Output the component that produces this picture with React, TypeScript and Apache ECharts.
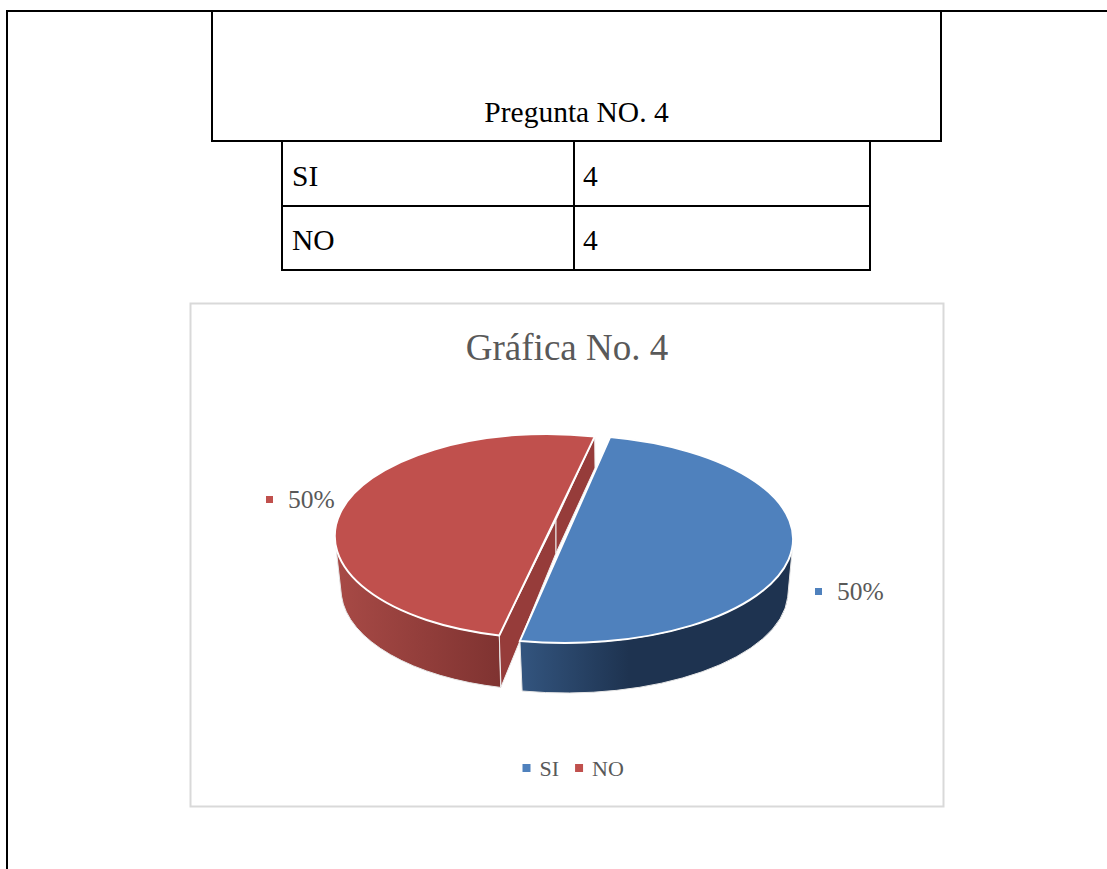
import React, { useEffect, useRef } from "react";
import * as echarts from "echarts";

const categories = ["SI", "NO"];
const values = [4, 4];
const tableHeading = "Pregunta NO. 4";
const chartTitle = "Gráfica No. 4";
const blue = "#4F81BD";
const red = "#C0504D";

const serif = "'Liberation Serif', serif";

type Slice = {
  cx: number; cy: number; rx: number; ry: number;
  lcx: number; lcy: number; lrx: number; lry: number;
  start: number;
  side: string[];
  labelX: number; labelY: number;
};

const sliceGeom: Slice[] = [
  { cx: 565, cy: 539, rx: 228, ry: 104, lcx: 566, lcy: 592, lrx: 222, lry: 101, start: -78.6,
    side: ["#33557F", "#1E3350"], labelX: 815, labelY: 590 },
  { cx: 547, cy: 536, rx: 212, ry: 102, lcx: 547, lcy: 589, lrx: 206, lry: 101, start: 103,
    side: ["#A84A46", "#7F3331"], labelX: 266, labelY: 498 },
];

const total = values.reduce((a, b) => a + b, 0);

function pt(cx: number, cy: number, rx: number, ry: number, deg: number) {
  const t = (deg * Math.PI) / 180;
  return [cx + rx * Math.cos(t), cy + ry * Math.sin(t)];
}

function renderSlice(idx: number) {
  return () => {
    const g = sliceGeom[idx];
    const sweep = (360 * values[idx]) / total;
    const end = g.start + sweep;
    const a = pt(g.cx, g.cy, g.rx, g.ry, g.start);
    const b = pt(g.cx, g.cy, g.rx, g.ry, end);
    const topPath = `M${a[0]} ${a[1]} A${g.rx} ${g.ry} 0 ${sweep > 180 ? 1 : 0} 1 ${b[0]} ${b[1]} Z`;

    // visible outer wall: only the near side of the rim
    const from = idx === 0 ? 3 : g.start;
    const to = idx === 0 ? end : 176;
    const w1 = pt(g.cx, g.cy, g.rx, g.ry, from);
    const w2 = pt(g.cx, g.cy, g.rx, g.ry, to);
    const w3 = pt(g.lcx, g.lcy, g.lrx, g.lry, to);
    const w4 = pt(g.lcx, g.lcy, g.lrx, g.lry, from);
    const wallPath =
      `M${w1[0]} ${w1[1]} A${g.rx} ${g.ry} 0 0 1 ${w2[0]} ${w2[1]} ` +
      `L${w3[0]} ${w3[1]} A${g.lrx} ${g.lry} 0 0 0 ${w4[0]} ${w4[1]} Z`;

    const wallFill = idx === 0
      ? new echarts.graphic.LinearGradient(0, 0, 1, 0, [
          { offset: 0, color: g.side[0] },
          { offset: 0.4, color: g.side[1] },
          { offset: 1, color: g.side[1] },
        ])
      : new echarts.graphic.LinearGradient(1, 0, 0, 0, [
          { offset: 0, color: g.side[1] },
          { offset: 1, color: g.side[0] },
        ]);

    const mk = (d: string, style: any) => ({ type: "path", shape: { pathData: d }, style });
    const children: any[] = [mk(wallPath, { fill: wallFill, stroke: "#E6E6E6", lineWidth: 1 })];

    if (idx === 1) {
      // cut faces of the exploded slice, folded at the pie's centre
      const fold = [556, 520];
      const foldLow = [556, 553];
      const lowA = [501, 687];
      const lowB = [595, 468];
      children.push(
        mk(`M${a[0]} ${a[1]} L${fold[0]} ${fold[1]} L${foldLow[0]} ${foldLow[1]} L${lowA[0]} ${lowA[1]} Z`,
          { fill: "#963C3A", stroke: "#EFEFEF", lineWidth: 1 }),
        mk(`M${b[0]} ${b[1]} L${fold[0]} ${fold[1]} L${foldLow[0]} ${foldLow[1]} L${lowB[0]} ${lowB[1]} Z`,
          { fill: "#963C3A", stroke: "#EFEFEF", lineWidth: 1 }),
      );
    }
    children.push(mk(topPath, { fill: idx === 0 ? blue : red, stroke: "#FFFFFF", lineWidth: 2 }));

    const pct = `${Math.round((100 * values[idx]) / total)}%`;
    children.push(
      { type: "rect", shape: { x: g.labelX, y: g.labelY - 2, width: 7, height: 7 }, style: { fill: idx === 0 ? blue : red } },
      { type: "text", style: { x: g.labelX + 22, y: g.labelY + 1, text: pct, fill: "#595959", font: `25.5px ${serif}`, textVerticalAlign: "middle", textAlign: "left" } },
    );
    return { type: "group", children };
  };
}

export default function App() {
  const ref = useRef<HTMLDivElement>(null);
  useEffect(() => {
    document.body.style.margin = "0";
    const chart = echarts.init(ref.current!, undefined, { renderer: "svg" });
    const line = { stroke: "#000000", lineWidth: 2 };
    const cellText = (x: number, y: number, text: string, textAlign = "left") => ({
      type: "text",
      style: { x, y, text, textAlign, textVerticalAlign: "middle", fill: "#000000", font: `29.5px ${serif}` },
    });
    const seg = (x1: number, y1: number, x2: number, y2: number) => ({
      type: "line", shape: { x1, y1, x2, y2 }, style: line,
    });
    chart.setOption({
      animation: false,
      backgroundColor: "#FFFFFF",
      title: {
        text: chartTitle,
        left: 562,
        top: 324,
        textAlign: "center",
        textStyle: { color: "#595959", fontSize: 37, fontWeight: "normal", fontFamily: serif },
      },
      legend: {
        data: categories,
        left: 517.5,
        top: 752,
        icon: "rect",
        itemWidth: 8,
        itemHeight: 8,
        itemGap: 16,
        textStyle: { color: "#595959", fontSize: 22, fontFamily: serif, padding: [0, 0, 0, 4] },
      },
      graphic: [
        seg(6, 11, 1107, 11),
        seg(7, 10, 7, 869),
        seg(212, 11, 212, 141),
        seg(941, 11, 941, 141),
        seg(211, 141, 942, 141),
        seg(282, 141, 282, 270),
        seg(870, 141, 870, 270),
        seg(574, 141, 574, 270),
        seg(282, 206, 870, 206),
        seg(281, 270, 871, 270),
        cellText(576.5, 112, tableHeading, "center"),
        cellText(292, 176, categories[0]),
        cellText(583, 176, String(values[0])),
        cellText(292, 240, categories[1]),
        cellText(583, 240, String(values[1])),
        {
          type: "rect",
          shape: { x: 190.5, y: 303.5, width: 753, height: 503 },
          style: { fill: "none", stroke: "#D9D9D9", lineWidth: 2 },
        },
      ],
      series: [
        {
          type: "custom", name: categories[1], coordinateSystem: "none",
          data: [values[1]], itemStyle: { color: red }, renderItem: renderSlice(1), z: 2,
        },
        {
          type: "custom", name: categories[0], coordinateSystem: "none",
          data: [values[0]], itemStyle: { color: blue }, renderItem: renderSlice(0), z: 3,
        },
      ],
    });
    return () => chart.dispose();
  }, []);
  return <div ref={ref} style={{ width: 1107, height: 869 }} />;
}
